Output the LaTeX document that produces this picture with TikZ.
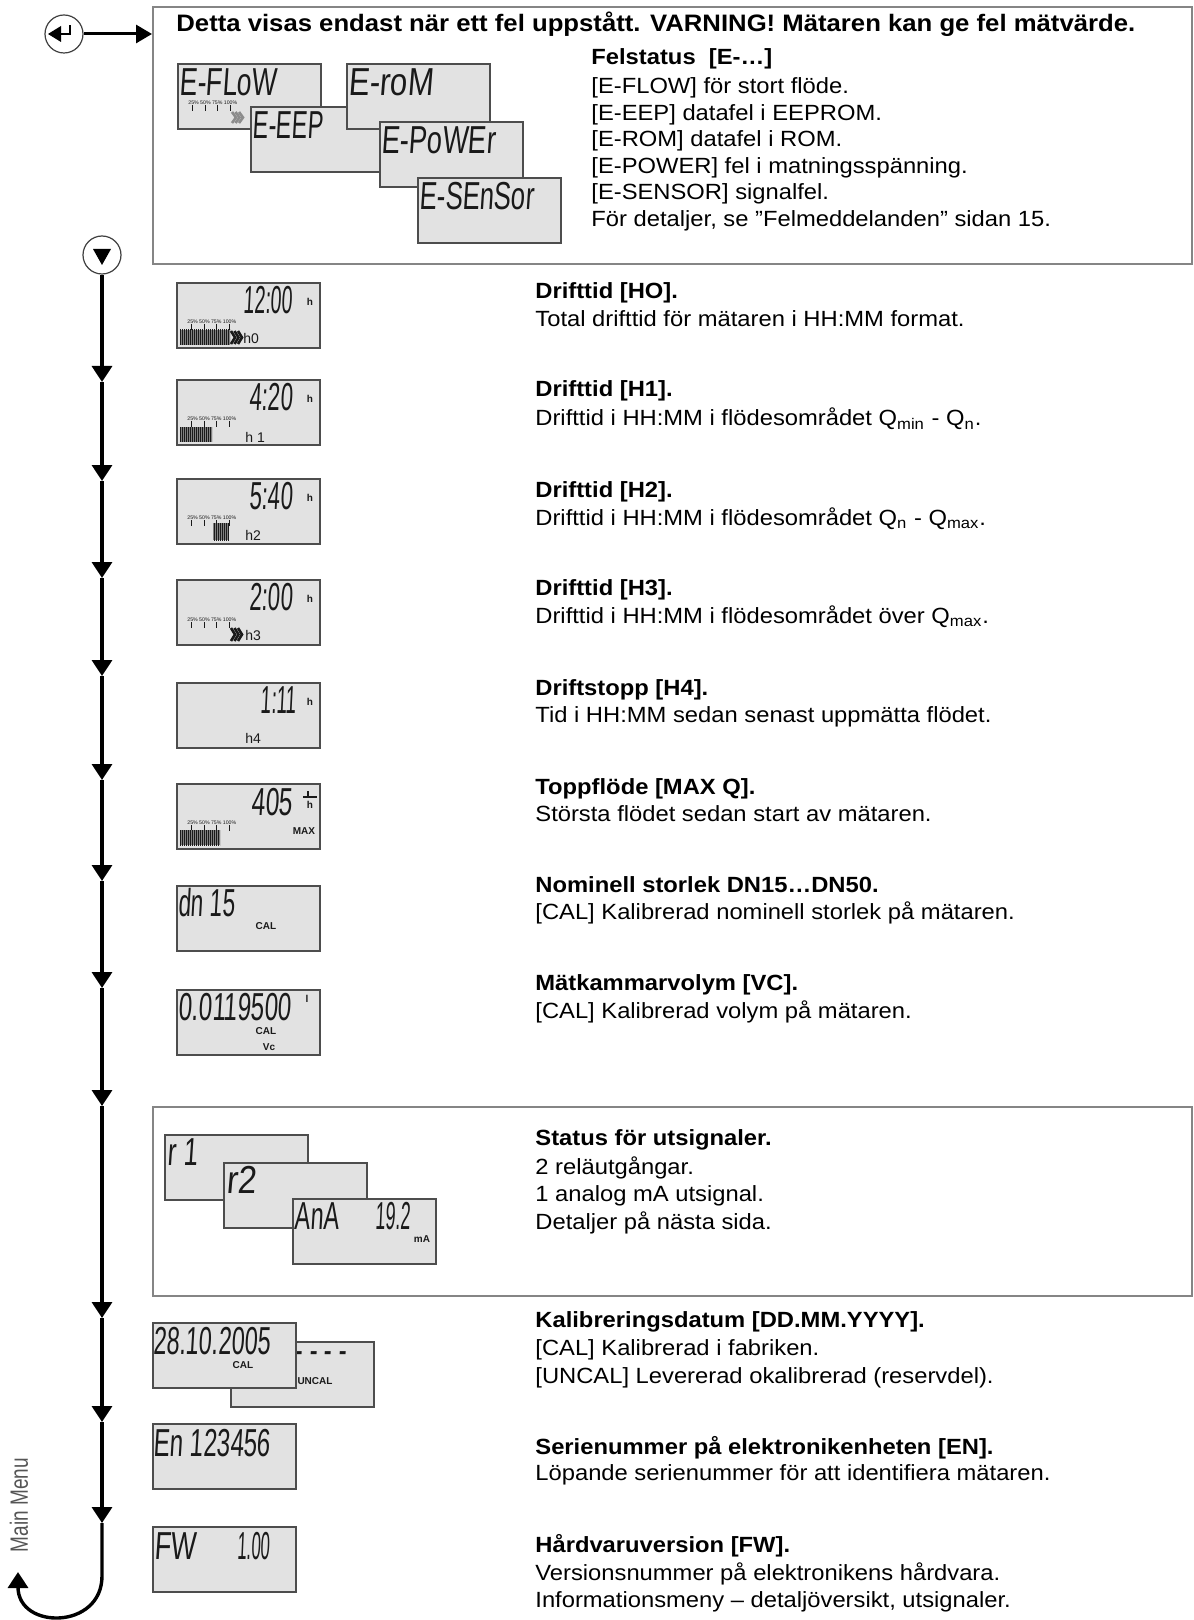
\documentclass[tikz,border=0pt]{standalone}
\usepackage{fontspec}
\setmainfont{Liberation Sans}[FakeStretch=1.08]
\newfontfamily\lcdfam[FakeSlant=0.1]{Liberation Sans}
\newfontfamily\lcdup{Liberation Sans}
\newfontfamily\mmfam[FakeStretch=0.76]{Liberation Sans}
\usetikzlibrary{arrows.meta,patterns.meta}
\definecolor{lcdfill}{HTML}{E2E2E2}
\definecolor{lcdborder}{HTML}{4D4D4D}
\definecolor{boxgray}{HTML}{858585}
\definecolor{lcdink}{HTML}{1A1A1A}
\definecolor{mmgray}{HTML}{555555}
\newcommand\bodyfs{\fontsize{11pt}{13pt}\selectfont}
\newcommand\titlefs{\fontsize{11.9pt}{13pt}\selectfont\bfseries}
\newcommand\lcdfs{\lcdfam\fontsize{19.5pt}{20pt}\selectfont}
\newcommand\lcdsm{\lcdup\fontsize{5pt}{6pt}\selectfont\bfseries}
\newcommand\lcdhh{\lcdup\fontsize{7pt}{8pt}\selectfont}
\newcommand\lcdtiny{\lcdup\fontsize{2.6pt}{3pt}\selectfont}
\newcommand\sx[2]{\scalebox{#1}[1]{#2}}
% bar graph: x1,y1,x2,y2
\newcommand\lcdbar[4]{%
  \fill[black!50] (#1,#2) rectangle (#3,#4);
  \fill[pattern={Lines[angle=90,distance=1pt,line width=0.45pt]},pattern color=lcdink] (#1,#2) rectangle (#3,#4);}
% scale labels with ticks: name, y of labels
\newcommand\lcdscale[2]{%
  \node[scl] (#1) at (11,#2) {25\% 50\% 75\% 100\%};
  \foreach \tx in {15,28,40,53} \draw[lcdink,line width=0.4pt] (\tx,{#2+2}) -- (\tx,{#2+8});}
% chevrons: x, ytop, ybot, colour
\newcommand\chev[4]{%
  \foreach \d in {0,3.5,7} \draw[#4,line width=1.3pt] ({#1+\d},#2) -- ({#1+\d+4},{(#2+#3)/2}) -- ({#1+\d},#3);}
\tikzset{
  lcd/.style={draw=lcdborder,fill=lcdfill,line width=0.9pt,minimum width=71.5pt,minimum height=32.5pt,inner sep=0pt,anchor=north west},
  panel/.style={draw=boxgray,line width=1pt,inner sep=0pt,anchor=north west},
  txt/.style={anchor=base west,inner sep=0pt,font=\bodyfs},
  hd/.style={anchor=base west,inner sep=0pt,font=\bodyfs\bfseries},
  seg/.style={inner sep=0pt,anchor=west,font=\lcdfs,text=lcdink},
  segr/.style={inner sep=0pt,anchor=east,font=\lcdfs,text=lcdink},
  tag/.style={inner sep=0pt,font=\lcdsm,text=lcdink},
  hh/.style={inner sep=0pt,anchor=west,font=\lcdhh,text=lcdink},
  scl/.style={inner sep=0pt,anchor=west,font=\lcdtiny,text=lcdink},
  flow/.style={line width=1.7pt,-{Triangle[width=10pt,length=8pt]}},
  navc/.style={circle,draw=black!75,line width=0.6pt,fill=white,minimum size=19pt,inner sep=0pt},
}
\begin{document}
\begin{tikzpicture}[x=0.5pt,y=-0.5pt]
\useasboundingbox (0,0) rectangle (1193,1620);
\fill[white] (0,0) rectangle (1193,1620);

% ---------------- error panel ----------------
\node[panel,minimum width=519.5pt,minimum height=128.5pt] (errbox) at (152,6) {};
\node[navc] (enter) at (64,34) {};
\fill (48,34) -- (61,26) -- (61,42) -- cycle;
\draw[line width=1pt] (61,34) -- (70,34) -- (70,25);
\draw[line width=1.5pt,-{Triangle[width=9pt,length=8pt]}] (enter.east) -- (enter.east -| errbox.west);

\node[anchor=base west,inner sep=0pt,font=\titlefs] (title) at (176,32) {Detta visas endast när ett fel uppstått. VARNING! Mätaren kan ge fel mätvärde.};
\node[hd] (fs) at (591,65) {Felstatus\ \ [E-…]};
\node[txt] (fs1) at (591,94) {[E-FLOW] för stort flöde.};
\node[txt] (fs2) at (591,121) {[E-EEP] datafel i EEPROM.};
\node[txt] (fs3) at (591,147) {[E-ROM] datafel i ROM.};
\node[txt] (fs4) at (591,174) {[E-POWER] fel i matningsspänning.};
\node[txt] (fs5) at (591,200) {[E-SENSOR] signalfel.};
\node[txt] (fs6) at (591,227) {För detaljer, se ”Felmeddelanden” sidan 15.};

\node[lcd] (eflow) at (177,63) {};
\begin{scope}[shift={(177,63)}]
  \node[seg] (eflowt) at (2,19) {\sx{0.68}{E-FLoW}};
  \lcdscale{eflows}{40}
  \chev{55}{49}{60}{black!45}
\end{scope}
\node[lcd] (eeep) at (250,106) {};
\begin{scope}[shift={(250,106)}]
  \node[seg] (eeept) at (2,19) {\sx{0.6}{E-EEP}};
\end{scope}
\node[lcd] (erom) at (346,63) {};
\begin{scope}[shift={(346,63)}]
  \node[seg] (eromt) at (2,19) {\sx{0.8}{E-roM}};
\end{scope}
\node[lcd] (epow) at (379,121) {};
\begin{scope}[shift={(379,121)}]
  \node[seg] (epowt) at (2,19) {\sx{0.7}{E-PoWEr}};
\end{scope}
\node[lcd] (esen) at (417,177) {};
\begin{scope}[shift={(417,177)}]
  \node[seg] (esent) at (2,19) {\sx{0.66}{E-SEnSor}};
\end{scope}

% ---------------- main flow ----------------
\node[navc] (nav) at (102,255) {};
\fill (93,249) -- (111,249) -- (102,265) -- cycle;
\coordinate (a1) at (102,382);
\coordinate (a2) at (102,481);
\coordinate (a3) at (102,578);
\coordinate (a4) at (102,676);
\coordinate (a5) at (102,780);
\coordinate (a6) at (102,881);
\coordinate (a7) at (102,988);
\coordinate (a8) at (102,1106);
\coordinate (a9) at (102,1318);
\coordinate (a10) at (102,1422);
\coordinate (a11) at (102,1523);
\coordinate (mm) at (18,1572);
\draw[flow] (nav) -- (a1);
\draw[flow] (a1) -- (a2);
\draw[flow] (a2) -- (a3);
\draw[flow] (a3) -- (a4);
\draw[flow] (a4) -- (a5);
\draw[flow] (a5) -- (a6);
\draw[flow] (a6) -- (a7);
\draw[flow] (a7) -- (a8);
\draw[flow] (a8) -- (a9);
\draw[flow] (a9) -- (a10);
\draw[flow] (a10) -- (a11);
\draw[flow] (a11) -- (102,1576) .. controls (102,1630) and (18,1630) .. (mm);
\node[rotate=90,inner sep=0pt,font=\mmfam\fontsize{12.5pt}{13pt}\selectfont,text=mmgray] (mmtext) at (19,1505) {Main Menu};

% HO
\node[lcd] (lho) at (176,282) {};
\begin{scope}[shift={(176,282)}]
  \node[segr] (lhot) at (117,18) {\sx{0.5}{12:00}};
  \node[tag] (lhou) at (134,20) {h};
  \lcdscale{lhos}{40}
  \lcdbar{4}{48}{54}{63}
  \chev{55}{49}{62}{lcdink}
  \node[hh] (lhoh) at (67,56) {h0};
\end{scope}
% H1
\node[lcd] (lh1) at (176,379) {};
\begin{scope}[shift={(176,379)}]
  \node[segr] (lh1t) at (117,18) {\sx{0.57}{4:20}};
  \node[tag] (lh1u) at (134,20) {h};
  \lcdscale{lh1s}{40}
  \lcdbar{4}{48}{36}{63}
  \node[hh] (lh1h) at (69,58) {h 1};
\end{scope}
% H2
\node[lcd] (lh2) at (176,478) {};
\begin{scope}[shift={(176,478)}]
  \node[segr] (lh2t) at (117,18) {\sx{0.57}{5:40}};
  \node[tag] (lh2u) at (134,20) {h};
  \lcdscale{lh2s}{40}
  \lcdbar{37}{45}{53}{62}
  \node[hh] (lh2h) at (69,57) {h2};
\end{scope}
% H3
\node[lcd] (lh3) at (176,579) {};
\begin{scope}[shift={(176,579)}]
  \node[segr] (lh3t) at (117,18) {\sx{0.57}{2:00}};
  \node[tag] (lh3u) at (134,20) {h};
  \lcdscale{lh3s}{41}
  \chev{55}{49}{62}{lcdink}
  \node[hh] (lh3h) at (69,56) {h3};
\end{scope}
% H4
\node[lcd] (lh4) at (176,682) {};
\begin{scope}[shift={(176,682)}]
  \node[segr] (lh4t) at (121,18) {\sx{0.49}{1:11}};
  \node[tag] (lh4u) at (134,20) {h};
  \node[hh] (lh4h) at (69,56) {h4};
\end{scope}
% MAX
\node[lcd] (lmax) at (176,783) {};
\begin{scope}[shift={(176,783)}]
  \node[segr] (lmaxt) at (117,19) {\sx{0.63}{405}};
  \node[tag] (lmaxu) at (134,22) {h};
  \draw[lcdink,line width=0.6pt] (127,14) -- (141,14);
  \draw[lcdink,line width=0.6pt] (132,8) -- (132,14);
  \lcdscale{lmaxs}{40}
  \lcdbar{4}{47}{44}{62}
  \node[tag] (lmaxm) at (128,48) {MAX};
\end{scope}
% DN
\node[lcd] (ldn) at (176,885) {};
\begin{scope}[shift={(176,885)}]
  \node[seg] (ldnt) at (2,18) {\sx{0.58}{dn 15}};
  \node[tag] (ldnc) at (90,41) {CAL};
\end{scope}
% VC
\node[lcd] (lvc) at (176,989) {};
\begin{scope}[shift={(176,989)}]
  \node[seg] (lvct) at (2,18) {\sx{0.62}{0.0119500}};
  \node[tag] (lvcu) at (131,10) {l};
  \node[tag] (lvcc) at (90,42) {CAL};
  \node[tag] (lvcv) at (93,58) {Vc};
\end{scope}

% ---------------- outputs panel ----------------
\node[panel,minimum width=519.5pt,minimum height=94.5pt] (outbox) at (152,1106) {};
\node[lcd] (lr1) at (164,1134) {};
\begin{scope}[shift={(164,1134)}]
  \node[seg] (lr1t) at (3,18) {\sx{0.66}{r 1}};
\end{scope}
\node[lcd] (lr2) at (223,1162) {};
\begin{scope}[shift={(223,1162)}]
  \node[seg] (lr2t) at (3,18) {\sx{0.86}{r2}};
\end{scope}
\node[lcd] (lana) at (292,1198) {};
\begin{scope}[shift={(292,1198)}]
  \node[seg] (lanat) at (2,18) {\sx{0.6}{AnA}};
  \node[seg] (lanav) at (83,18) {\sx{0.46}{19.2}};
  \node[tag] (lanau) at (130,41) {mA};
\end{scope}

% calibration date
\node[lcd] (lunc) at (230,1341) {};
\begin{scope}[shift={(230,1341)}]
  \node[seg] (lunct) at (64,17) {\sx{0.62}{- - - -}};
  \node[tag] (lunca) at (85,40) {UNCAL};
\end{scope}
\node[lcd] (lcal) at (152,1322) {};
\begin{scope}[shift={(152,1322)}]
  \node[seg] (lcalt) at (1,19) {\sx{0.6}{28.10.2005}};
  \node[tag] (lcalc) at (91,43) {CAL};
\end{scope}
% EN
\node[lcd] (len) at (152,1423) {};
\begin{scope}[shift={(152,1423)}]
  \node[seg] (lent) at (1,20) {\sx{0.62}{En 123456}};
\end{scope}
% FW
\node[lcd] (lfw) at (152,1526) {};
\begin{scope}[shift={(152,1526)}]
  \node[seg] (lfwt) at (2,20) {\sx{0.69}{FW}};
  \node[seg] (lfwv) at (85,20) {\sx{0.43}{1.00}};
\end{scope}

% ---------------- descriptions ----------------
\node[hd]  (d1a) at (535,299) {Drifttid [HO].};
\node[txt] (d1b) at (535,327) {Total drifttid för mätaren i HH:MM format.};
\node[hd]  (d2a) at (535,397) {Drifttid [H1].};
\node[txt] (d2b) at (535,426) {Drifttid i HH:MM i flödesområdet Q\textsubscript{min} - Q\textsubscript{n}.};
\node[hd]  (d3a) at (535,497) {Drifttid [H2].};
\node[txt] (d3b) at (535,525) {Drifttid i HH:MM i flödesområdet Q\textsubscript{n} - Q\textsubscript{max}.};
\node[hd]  (d4a) at (535,595) {Drifttid [H3].};
\node[txt] (d4b) at (535,623) {Drifttid i HH:MM i flödesområdet över Q\textsubscript{max}.};
\node[hd]  (d5a) at (535,695) {Driftstopp [H4].};
\node[txt] (d5b) at (535,722) {Tid i HH:MM sedan senast uppmätta flödet.};
\node[hd]  (d6a) at (535,794) {Toppflöde [MAX Q].};
\node[txt] (d6b) at (535,821) {Största flödet sedan start av mätaren.};
\node[hd]  (d7a) at (535,892) {Nominell storlek DN15…DN50.};
\node[txt] (d7b) at (535,919) {[CAL] Kalibrerad nominell storlek på mätaren.};
\node[hd]  (d8a) at (535,990) {Mätkammarvolym [VC].};
\node[txt] (d8b) at (535,1018) {[CAL] Kalibrerad volym på mätaren.};
\node[hd]  (d9a) at (535,1145) {Status för utsignaler.};
\node[txt] (d9b) at (535,1174) {2 reläutgångar.};
\node[txt] (d9c) at (535,1201) {1 analog mA utsignal.};
\node[txt] (d9d) at (535,1229) {Detaljer på nästa sida.};
\node[hd]  (d10a) at (535,1327) {Kalibreringsdatum [DD.MM.YYYY].};
\node[txt] (d10b) at (535,1355) {[CAL] Kalibrerad i fabriken.};
\node[txt] (d10c) at (535,1383) {[UNCAL] Levererad okalibrerad (reservdel).};
\node[hd]  (d11a) at (535,1454) {Serienummer på elektronikenheten [EN].};
\node[txt] (d11b) at (535,1480) {Löpande serienummer för att identifiera mätaren.};
\node[hd]  (d12a) at (535,1552) {Hårdvaruversion [FW].};
\node[txt] (d12b) at (535,1580) {Versionsnummer på elektronikens hårdvara.};
\node[txt] (d12c) at (535,1607) {Informationsmeny – detaljöversikt, utsignaler.};
\end{tikzpicture}
\end{document}
